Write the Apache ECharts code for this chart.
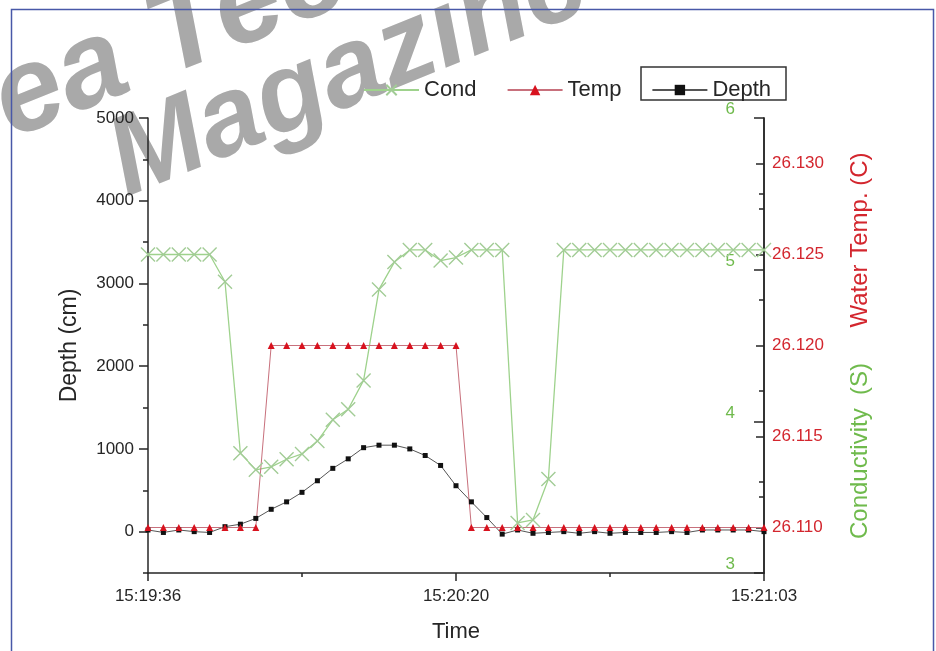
<!DOCTYPE html>
<html><head><meta charset="utf-8">
<script src="https://cdn.jsdelivr.net/npm/echarts@6/dist/echarts.min.js"></script>
<style>html,body{margin:0;padding:0;background:#fff}#c{width:936px;height:651px}</style>
</head><body><div id="c"></div>
<script>
// ---- data (one sample every ~2.2 s, 41 samples) ----
const timeLabels = ['15:19:36', '15:20:20', '15:21:03'];
const depthValues = [20, -10, 20, 0, -10, 60, 90, 160, 270, 360, 475, 615, 765, 880, 1015, 1045, 1045, 1000, 920, 800, 555,
  360, 170, -30, 20, -20, -10, 0, -20, 0, -20, -10, -10, -10, 0, -10, 20, 20, 20, 20, 0];
const tempValues = [26.110, 26.110, 26.110, 26.110, 26.110, 26.110, 26.110, 26.110,
  26.120, 26.120, 26.120, 26.120, 26.120, 26.120, 26.120, 26.120, 26.120, 26.120, 26.120, 26.120, 26.120,
  26.110, 26.110, 26.110, 26.110, 26.110, 26.110, 26.110, 26.110, 26.110, 26.110,
  26.110, 26.110, 26.110, 26.110, 26.110, 26.110, 26.110, 26.110, 26.110, 26.110];
const condValues = [5.10, 5.10, 5.10, 5.10, 5.10, 4.92, 3.79, 3.68, 3.70, 3.75, 3.785, 3.87, 4.01, 4.08, 4.27, 4.87,
  5.05, 5.13, 5.13, 5.06, 5.08, 5.13, 5.13, 5.13, 3.33, 3.35, 3.62,
  5.13, 5.13, 5.13, 5.13, 5.13, 5.13, 5.13, 5.13, 5.13, 5.13, 5.13, 5.13, 5.13, 5.13];
const depthLabelValues = [0, 1000, 2000, 3000, 4000, 5000];
const depthMinorTicks = [-500, 500, 1500, 2500, 3500, 4500];
const tempLabelValues = [26.110, 26.115, 26.120, 26.125, 26.130];
const tempMinorTicks = [26.1125, 26.1175, 26.1225, 26.1275];

const FONT = "'Liberation Sans', Arial, Helvetica, sans-serif";
const INK = '#262626';
const RED = '#d3262e';
const GREEN = '#6fba4c';
const pts = arr => arr.map((v, i) => [i, v]);

const chart = echarts.init(document.getElementById('c'), null, {renderer: 'canvas'});
chart.setOption({
  animation: false,
  backgroundColor: '#fff',
  textStyle: {fontFamily: FONT},
  grid: {left: 148, right: 172, top: 118, bottom: 78, containLabel: false},
  legend: {
    left: 358, top: 74, itemWidth: 55, itemHeight: 13, itemGap: 30, z: 10,
    textStyle: {fontSize: 22, color: INK, fontFamily: FONT},
    data: ['Cond', 'Temp', 'Depth']
  },
  xAxis: {
    type: 'value', min: 0, max: 40, interval: 20,
    axisLine: {show: true, onZero: false, lineStyle: {color: INK, width: 1.5}},
    axisTick: {show: true, length: 8, lineStyle: {color: INK, width: 1.5}},
    minorTick: {show: true, splitNumber: 2, length: 4, lineStyle: {color: INK, width: 1.5}},
    axisLabel: {fontSize: 17, color: INK, margin: 15, formatter: v => timeLabels[Math.round(v / 20)] || ''},
    splitLine: {show: false},
    name: 'Time', nameLocation: 'middle', nameGap: 48,
    nameTextStyle: {fontSize: 22, color: INK}
  },
  yAxis: [
    { // 0 depth
      type: 'value', position: 'left', min: -500, max: 5000,
      axisLine: {show: true, onZero: false, lineStyle: {color: INK, width: 1.5}},
      axisTick: {show: true, length: 9, customValues: depthLabelValues, lineStyle: {color: INK, width: 1.5}},
      axisLabel: {fontSize: 17, color: INK, margin: 14, customValues: depthLabelValues, formatter: v => String(v)},
      splitLine: {show: false},
      name: 'Depth (cm)', nameLocation: 'middle', nameGap: 67,
      nameTextStyle: {fontSize: 23, color: INK}
    },
    { // 1 depth minor ticks
      type: 'value', position: 'left', min: -500, max: 5000,
      axisLine: {show: false, onZero: false},
      axisTick: {show: true, length: 5, customValues: depthMinorTicks, lineStyle: {color: INK, width: 1.5}},
      axisLabel: {show: false}, splitLine: {show: false}
    },
    { // 2 temperature
      type: 'value', position: 'right', min: 26.1075, max: 26.1325,
      axisLine: {show: true, onZero: false, lineStyle: {color: INK, width: 1.5}},
      axisTick: {show: true, inside: true, length: 8, customValues: tempLabelValues, lineStyle: {color: INK, width: 1.5}},
      axisLabel: {fontSize: 17, color: RED, margin: 8, customValues: tempLabelValues, formatter: v => v.toFixed(3)},
      splitLine: {show: false}
    },
    { // 3 temperature minor ticks
      type: 'value', position: 'right', min: 26.1075, max: 26.1325,
      axisLine: {show: false, onZero: false},
      axisTick: {show: true, inside: true, length: 5, customValues: tempMinorTicks, lineStyle: {color: INK, width: 1.5}},
      axisLabel: {show: false}, splitLine: {show: false}
    },
    { // 4 conductivity
      type: 'value', position: 'right', min: 3, max: 6, interval: 1,
      axisLine: {show: true, onZero: false, lineStyle: {color: INK, width: 1.5}},
      axisTick: {show: true, inside: true, length: 10, lineStyle: {color: INK, width: 1.5}},
      minorTick: {show: true, splitNumber: 2, length: 5, lineStyle: {color: INK, width: 1.5}},
      axisLabel: {inside: true, fontSize: 17, color: GREEN, margin: 29, verticalAlign: 'bottom'},
      splitLine: {show: false}
    }
  ],
  series: [
    {
      name: 'Cond', type: 'line', yAxisIndex: 4, data: pts(condValues),
      symbol: 'path://M0,0L10,10M10,0L0,10', symbolSize: 14,
      lineStyle: {color: '#9ed28c', width: 1.3},
      itemStyle: {color: 'rgba(255,255,255,0)', borderColor: '#a2cc96', borderWidth: 1.4}
    },
    {
      name: 'Depth', type: 'line', yAxisIndex: 0, data: pts(depthValues),
      symbol: 'rect', symbolSize: 5,
      lineStyle: {color: '#555', width: 1},
      itemStyle: {color: '#111'}
    },
    {
      name: 'Temp', type: 'line', yAxisIndex: 2, data: pts(tempValues),
      symbol: 'triangle', symbolSize: 7,
      lineStyle: {color: '#c8707c', width: 1},
      itemStyle: {color: '#d8121e'}
    }
  ],
  graphic: [
    {type: 'rect', left: 9, top: 7, shape: {width: 922, height: 660}, style: {fill: 'none', stroke: '#4858a8', lineWidth: 1.5}, z: 1, silent: true},
    {type: 'rect', shape: {x: 641, y: 67, width: 145, height: 33}, style: {fill: 'none', stroke: '#333', lineWidth: 1.5}, z: 1, silent: true},
    {type: 'text', x: 860, y: 240, rotation: Math.PI / 2,
      style: {text: 'Water Temp. (C)', fill: RED, font: "24px " + FONT, textAlign: 'center', textVerticalAlign: 'middle'}},
    {type: 'text', x: 860, y: 451, rotation: Math.PI / 2,
      style: {text: 'Conductivity  (S)', fill: GREEN, font: "24px " + FONT, textAlign: 'center', textVerticalAlign: 'middle'}},
    {type: 'text', x: -53, y: 194, rotation: 0.384, z: -1, silent: true,
      style: {text: 'Sea Tech', fill: '#a9a9a9', stroke: '#fff', lineWidth: 1.5, font: "italic bold 120px " + FONT, textAlign: 'left', textVerticalAlign: 'bottom'}},
    {type: 'text', x: 136, y: 220, rotation: 0.384, z: -1, silent: true,
      style: {text: 'Magazine', fill: '#a9a9a9', stroke: '#fff', lineWidth: 1.5, font: "italic bold 112px " + FONT, textAlign: 'left', textVerticalAlign: 'bottom'}}
  ]
});
</script>
</body></html>
